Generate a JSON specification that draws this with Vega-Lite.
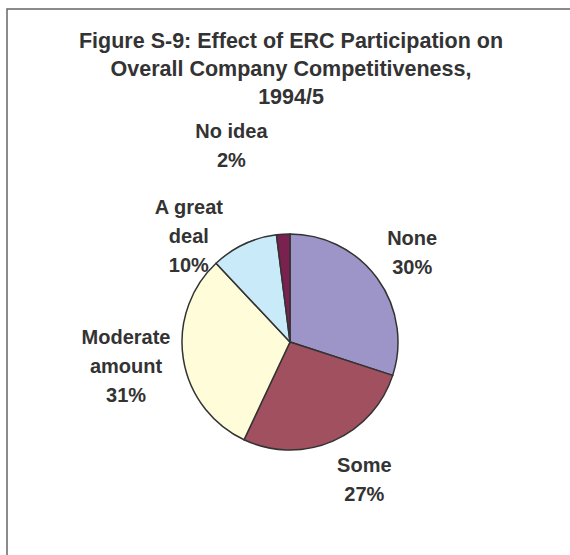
{
  "$schema": "https://vega.github.io/schema/vega-lite/v6.json",
  "width": 566,
  "height": 666,
  "autosize": "none",
  "padding": {"left": 7, "top": 9, "right": 0, "bottom": 0},
  "background": "white",
  "view": {"stroke": "#666666", "strokeWidth": 1.5, "fill": "white"},
  "title": {
    "text": ["Figure S-9: Effect of ERC Participation on", "Overall Company Competitiveness,", "1994/5"],
    "font": "Liberation Sans",
    "fontSize": 21.5,
    "fontWeight": "bold",
    "color": "#333333",
    "lineHeight": 28,
    "anchor": "middle",
    "dx": 1,
    "offset": -99
  },
  "data": {
    "values": [
      {"category": "None", "label": "None\n30%", "value": 30, "rank": 1},
      {"category": "Some", "label": "Some\n27%", "value": 27, "rank": 2},
      {"category": "Moderate amount", "label": "Moderate\namount\n31%", "value": 31, "rank": 3},
      {"category": "A great deal", "label": "A great\ndeal\n10%", "value": 10, "rank": 4},
      {"category": "No idea", "label": "No idea\n2%", "value": 2, "rank": 5}
    ]
  },
  "transform": [
    {"stack": "value", "groupby": [], "sort": [{"field": "rank", "order": "ascending"}], "as": ["v0", "v1"]},
    {"calculate": "(datum.v0 + datum.v1) / 2", "as": "mid"}
  ],
  "layer": [
    {
      "mark": {"type": "arc", "outerRadius": 108, "stroke": "#333333", "strokeWidth": 1.5},
      "encoding": {
        "theta": {"field": "v0", "type": "quantitative", "scale": {"domain": [0, 100]}},
        "theta2": {"field": "v1"},
        "color": {
          "field": "category",
          "type": "nominal",
          "scale": {
            "domain": ["None", "Some", "Moderate amount", "A great deal", "No idea"],
            "range": ["#9D94C8", "#A0505F", "#FFFCD9", "#C9EAF9", "#7B2150"]
          },
          "legend": null
        }
      }
    },
    {
      "transform": [{"filter": "datum.category === 'None'"}],
      "mark": {"type": "text", "radius": 151, "font": "Liberation Sans", "fontSize": 20, "fontWeight": "bold", "color": "#333333", "lineBreak": "\n", "lineHeight": 29, "dy": -14},
      "encoding": {"theta": {"field": "mid", "type": "quantitative", "scale": {"domain": [0, 100]}}, "text": {"field": "label"}}
    },
    {
      "transform": [{"filter": "datum.category === 'Some'"}],
      "mark": {"type": "text", "radius": 157, "font": "Liberation Sans", "fontSize": 20, "fontWeight": "bold", "color": "#333333", "lineBreak": "\n", "lineHeight": 29, "dx": 12, "dy": -20},
      "encoding": {"theta": {"field": "mid", "type": "quantitative", "scale": {"domain": [0, 100]}}, "text": {"field": "label"}}
    },
    {
      "transform": [{"filter": "datum.category === 'Moderate amount'"}],
      "mark": {"type": "text", "radius": 166, "font": "Liberation Sans", "fontSize": 20, "fontWeight": "bold", "color": "#333333", "lineBreak": "\n", "lineHeight": 29, "dy": -30},
      "encoding": {"theta": {"field": "mid", "type": "quantitative", "scale": {"domain": [0, 100]}}, "text": {"field": "label"}}
    },
    {
      "transform": [{"filter": "datum.category === 'A great deal'"}],
      "mark": {"type": "text", "radius": 146, "font": "Liberation Sans", "fontSize": 20, "fontWeight": "bold", "color": "#333333", "lineBreak": "\n", "lineHeight": 29, "dx": -39, "dy": -2},
      "encoding": {"theta": {"field": "mid", "type": "quantitative", "scale": {"domain": [0, 100]}}, "text": {"field": "label"}}
    },
    {
      "transform": [{"filter": "datum.category === 'No idea'"}],
      "mark": {"type": "text", "radius": 200, "font": "Liberation Sans", "fontSize": 20, "fontWeight": "bold", "color": "#333333", "lineBreak": "\n", "lineHeight": 29, "dx": -46, "dy": -10},
      "encoding": {"theta": {"field": "mid", "type": "quantitative", "scale": {"domain": [0, 100]}}, "text": {"field": "label"}}
    }
  ]
}
